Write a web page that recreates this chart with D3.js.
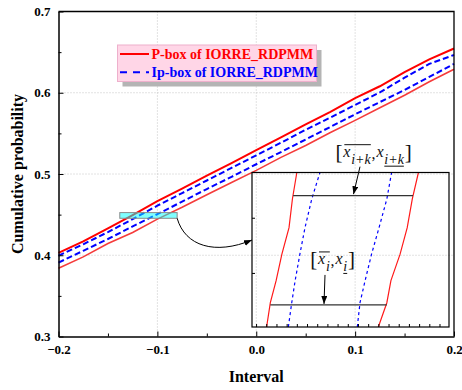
<!DOCTYPE html>
<html>
<head>
<meta charset="utf-8">
<script src="https://cdn.jsdelivr.net/npm/d3@7"></script>
<style>
  body { margin: 0; background: #fff; }
  svg { display: block; font-family: "Liberation Serif", "Times New Roman", serif; }
</style>
</head>
<body>
<svg id="chart" width="462" height="390"></svg>
<script>
// ---- data ----
const xValues    = [-0.2, -0.175, -0.15, -0.125, -0.1, -0.075, -0.05, -0.025, 0, 0.025, 0.05, 0.075, 0.1, 0.125, 0.15, 0.175, 0.2]
const pBoxUpper  = [0.403, 0.417, 0.433, 0.4495, 0.4665, 0.482, 0.498, 0.5135, 0.5295, 0.545, 0.561, 0.5765, 0.5935, 0.608, 0.6255, 0.641, 0.6545]
const ipBoxUpper = [0.3995, 0.4135, 0.4285, 0.4445, 0.461, 0.4765, 0.492, 0.5075, 0.523, 0.5385, 0.5545, 0.5695, 0.585, 0.6005, 0.6185, 0.6355, 0.6465]
const ipBoxLower = [0.391, 0.4055, 0.42, 0.4355, 0.4505, 0.466, 0.4815, 0.4965, 0.512, 0.527, 0.5425, 0.558, 0.5735, 0.5885, 0.6035, 0.6195, 0.6355]
const pBoxLower  = [0.384, 0.398, 0.4145, 0.428, 0.4445, 0.459, 0.4745, 0.4895, 0.5045, 0.5205, 0.535, 0.551, 0.566, 0.5815, 0.597, 0.6135, 0.629]

const xTicks = [-0.2, -0.1, 0, 0.1, 0.2]
const xMinor = [-0.15, -0.05, 0.05, 0.15]
const yTicks = [0.3, 0.4, 0.5, 0.6, 0.7]
const yMinor = [0.35, 0.45, 0.55, 0.65]
const legendLabels = ['P-box of IORRE_RDPMM', 'Ip-box of IORRE_RDPMM']

// zoomed window (highlighted rectangle) and the curves inside it
const zoomX = [-0.138, -0.080]
const zoomY = [0.4455, 0.4525]
const insetLevels     = [0.4455, 0.4466, 0.4476, 0.4488, 0.4500, 0.4513, 0.4525]
const insetPUpperX    = [-0.1337, -0.1326, -0.1309, -0.1292, -0.1271, -0.1261, -0.1248]
const insetIpUpperX   = [-0.1273, -0.1263, -0.1253, -0.1239, -0.1224, -0.1204, -0.1180]
const insetIpLowerX   = [-0.1070, -0.1062, -0.1047, -0.1028, -0.1006, -0.0983, -0.0969]
const insetPLowerX    = [-0.1008, -0.0983, -0.0971, -0.0944, -0.0923, -0.0908, -0.0890]
const insetXTicks = d3.range(-0.1368, -0.0805, 0.003)
const insetYTicks = [0.44795, 0.45045]
const intervalLevels = [0.4465, 0.45145]
const intervalLo     = [-0.1326, -0.1259]
const intervalHi     = [-0.0983, -0.0906]
const intervalSubs   = ['i', 'i+k']

// ---- layout ----
const width = 462, height = 390
const margin = { top: 11.5, right: 8, bottom: 53.5, left: 58.5 }
const inset = { x0: 252, x1: 449, y0: 172.5, y1: 327 }

const svg = d3.select('#chart')
const defs = svg.append('defs')
defs.append('marker')
    .attr('id', 'head')
    .attr('viewBox', '0 0 8 6')
    .attr('refX', 8).attr('refY', 3)
    .attr('markerWidth', 8).attr('markerHeight', 6)
    .attr('markerUnits', 'userSpaceOnUse')
    .attr('orient', 'auto')
    .append('path').attr('d', 'M0,0L8,3L0,6z').attr('fill', '#000')

const x = d3.scaleLinear().domain([-0.2, 0.2]).range([margin.left, width - margin.right])
const y = d3.scaleLinear().domain([0.3, 0.7]).range([height - margin.bottom, margin.top])

// grid
const grid = svg.append('g').attr('stroke', '#c4c4c4').attr('stroke-dasharray', '1,2')
grid.selectAll('.gx').data(xTicks.slice(1, -1)).join('line')
    .attr('x1', d => x(d)).attr('x2', d => x(d))
    .attr('y1', y(0.3)).attr('y2', y(0.7))
grid.selectAll('.gy').data(yTicks.slice(1, -1)).join('line')
    .attr('y1', d => y(d)).attr('y2', d => y(d))
    .attr('x1', x(-0.2)).attr('x2', x(0.2))

// curves
const series = [
    { vals: pBoxUpper,  color: '#ff0000', w: 2,   dash: null },
    { vals: ipBoxUpper, color: '#0000ff', w: 2,   dash: '6,3' },
    { vals: ipBoxLower, color: '#0000ff', w: 2,   dash: '6,3' },
    { vals: pBoxLower,  color: '#f53b3b', w: 1.6, dash: null }
]
const line = d3.line().x((d, i) => x(xValues[i])).y(d => y(d))
svg.append('g').selectAll('path').data(series).join('path')
    .attr('d', d => line(d.vals))
    .attr('fill', 'none')
    .attr('stroke', d => d.color)
    .attr('stroke-width', d => d.w)
    .attr('stroke-dasharray', d => d.dash)

// highlighted window
svg.append('rect')
    .attr('x', x(zoomX[0])).attr('y', y(zoomY[1]))
    .attr('width', x(zoomX[1]) - x(zoomX[0]))
    .attr('height', y(zoomY[0]) - y(zoomY[1]))
    .attr('fill', '#00ffff').attr('fill-opacity', 0.5)
    .attr('stroke', '#8a8a8a').attr('stroke-width', 1)

// axes
const axisFont = g => g.selectAll('text')
    .attr('font-family', '"Liberation Serif", "Times New Roman", serif')
    .attr('font-size', 13).attr('font-weight', 'bold').attr('fill', '#000')

svg.append('g')
    .attr('transform', `translate(0,${y(0.3)})`)
    .call(d3.axisBottom(x).tickValues(xTicks).tickSize(-5).tickSizeOuter(0).tickPadding(8)
        .tickFormat(d3.format('.1f')))
    .call(axisFont)
    .call(g => g.select('.domain').attr('stroke-width', 1.5))
svg.append('g')
    .attr('transform', `translate(0,${y(0.3)})`)
    .call(d3.axisBottom(x).tickValues(xMinor).tickSize(-3).tickSizeOuter(0).tickFormat(''))
    .call(g => g.select('.domain').remove())

svg.append('g')
    .attr('transform', `translate(${x(-0.2)},0)`)
    .call(d3.axisLeft(y).tickValues(yTicks).tickSize(-5).tickSizeOuter(0).tickPadding(8)
        .tickFormat(d3.format('.1f')))
    .call(axisFont)
    .call(g => g.select('.domain').attr('stroke-width', 1.5))
svg.append('g')
    .attr('transform', `translate(${x(-0.2)},0)`)
    .call(d3.axisLeft(y).tickValues(yMinor).tickSize(-3).tickSizeOuter(0).tickFormat(''))
    .call(g => g.select('.domain').remove())

// top & right frame
svg.append('path')
    .attr('d', `M${x(-0.2)},${y(0.7)}H${x(0.2)}V${y(0.3)}`)
    .attr('fill', 'none').attr('stroke', '#000').attr('stroke-width', 1.3)

// axis titles
svg.append('text')
    .attr('x', x(0)).attr('y', 381.5)
    .attr('text-anchor', 'middle')
    .attr('font-size', 16).attr('font-weight', 'bold')
    .text('Interval')
svg.append('text')
    .attr('transform', `translate(23,${(y(0.3) + y(0.7)) / 2})rotate(-90)`)
    .attr('text-anchor', 'middle')
    .attr('font-size', 16).attr('font-weight', 'bold')
    .text('Cumulative probability')

// legend
const lg = svg.append('g').attr('transform', 'translate(117.5,45)')
lg.append('rect').attr('x', 5).attr('y', 5).attr('width', 199).attr('height', 36.5).attr('fill', '#b4b4b4')
lg.append('rect').attr('width', 199).attr('height', 36.5)
    .attr('fill', '#ffd6e7').attr('stroke', '#eeb0cc').attr('stroke-width', 1)
const legendStyle = [series[0], series[1]]
legendLabels.forEach((lab, i) => {
    const yy = 9 + i * 18.3
    lg.append('line')
        .attr('x1', 2.5).attr('x2', 31.5).attr('y1', yy).attr('y2', yy)
        .attr('stroke', legendStyle[i].color).attr('stroke-width', 2)
        .attr('stroke-dasharray', i ? '7,6' : null)
    lg.append('text')
        .attr('x', 34).attr('y', yy + 4.8)
        .attr('font-size', 14).attr('font-weight', 'bold')
        .attr('fill', legendStyle[i].color)
        .text(lab)
})

// ---- inset ----
const ix = d3.scaleLinear().domain(zoomX).range([inset.x0, inset.x1])
const iy = d3.scaleLinear().domain(zoomY).range([inset.y1, inset.y0])

defs.append('clipPath').attr('id', 'insetClip')
    .append('rect')
    .attr('x', inset.x0).attr('y', inset.y0)
    .attr('width', inset.x1 - inset.x0).attr('height', inset.y1 - inset.y0)

const ig = svg.append('g')
const insetSeries = [
    { xs: insetPUpperX,  color: '#ff1a1a', w: 1.2, dash: null },
    { xs: insetIpUpperX, color: '#0000ff', w: 1.2, dash: '3,3' },
    { xs: insetIpLowerX, color: '#0000ff', w: 1.2, dash: '3,3' },
    { xs: insetPLowerX,  color: '#ff1a1a', w: 1.2, dash: null }
]
const iline = d3.line().x(d => ix(d[0])).y(d => iy(d[1]))
ig.append('g').attr('clip-path', 'url(#insetClip)')
    .selectAll('path').data(insetSeries).join('path')
    .attr('d', s => iline(s.xs.map((v, i) => [v, insetLevels[i]])))
    .attr('fill', 'none')
    .attr('stroke', s => s.color)
    .attr('stroke-width', s => s.w)
    .attr('stroke-dasharray', s => s.dash)

ig.append('g')
    .attr('transform', `translate(0,${inset.y1})`)
    .call(d3.axisBottom(ix).tickValues(insetXTicks).tickSize(-3).tickSizeOuter(0).tickFormat(''))
    .call(g => g.select('.domain').remove())
ig.append('g')
    .attr('transform', `translate(${inset.x0},0)`)
    .call(d3.axisLeft(iy).tickValues(insetYTicks).tickSize(-3).tickSizeOuter(0).tickFormat(''))
    .call(g => g.select('.domain').remove())
ig.append('rect')
    .attr('x', inset.x0).attr('y', inset.y0)
    .attr('width', inset.x1 - inset.x0).attr('height', inset.y1 - inset.y0)
    .attr('fill', 'none').attr('stroke', '#000').attr('stroke-width', 1.2)

// interval bars
ig.selectAll('.interval').data(intervalLevels).join('line')
    .attr('x1', (d, i) => ix(intervalLo[i])).attr('x2', (d, i) => ix(intervalHi[i]))
    .attr('y1', d => iy(d)).attr('y2', d => iy(d))
    .attr('stroke', '#333').attr('stroke-width', 1.3)

// interval labels  [x̄, x̲]
function mathLabel(parent, cx, base, sub) {
    const g = parent.append('g').attr('fill', '#111')
    const pieces = [
        { t: '[', size: 21, it: false, dy: 0 },
        { t: 'x', size: 16, it: true, dy: -2, over: true },
        { t: sub, size: 14, it: true, dy: 5, over: true },
        { t: ',', size: 16, it: false, dy: 0 },
        { t: 'x', size: 16, it: true, dy: -2 },
        { t: sub, size: 14, it: true, dy: 5, under: true },
        { t: ']', size: 21, it: false, dy: 0 }
    ]
    let cur = 0
    pieces.forEach(p => {
        const t = g.append('text')
            .attr('x', cur).attr('y', base + p.dy)
            .attr('font-size', p.size)
            .attr('font-style', p.it ? 'italic' : 'normal')
            .text(p.t)
        p.x0 = cur
        p.w = t.node().getComputedTextLength()
        cur += p.w + 0.8
    })
    const span = key => {
        const ps = pieces.filter(p => p[key])
        return [d3.min(ps, p => p.x0), d3.max(ps, p => p.x0 + p.w)]
    }
    const ov = span('over'), un = span('under')
    g.append('line').attr('x1', ov[0] + 1).attr('x2', ov[1]).attr('y1', base - 14).attr('y2', base - 14)
        .attr('stroke', '#111').attr('stroke-width', 1)
    g.append('line').attr('x1', un[0]).attr('x2', un[1]).attr('y1', base + 7.5).attr('y2', base + 7.5)
        .attr('stroke', '#111').attr('stroke-width', 1)
    g.attr('transform', `translate(${cx - cur / 2},0)`)
}
mathLabel(svg, 333, iy(intervalLevels[0]) - 39, intervalSubs[0])
mathLabel(svg, 374, iy(intervalLevels[1]) - 37, intervalSubs[1])

// arrows to the interval bars
const arrow = (x1, y1, x2, y2) => svg.append('line')
    .attr('x1', x1).attr('y1', y1).attr('x2', x2).attr('y2', y2)
    .attr('stroke', '#000').attr('stroke-width', 1).attr('marker-end', 'url(#head)')
arrow(325, iy(intervalLevels[0]) - 30, 324, iy(intervalLevels[0]) - 1)
arrow(360, iy(intervalLevels[1]) - 29, 353.5, iy(intervalLevels[1]) - 1.5)

// curved arrow from the window to the inset
const sx = x(zoomX[1]), sy = y(zoomY[0])
const ex = inset.x0, ey = 240
svg.append('path')
    .attr('d', `M${sx},${sy}C${sx + 8},${sy + 28} ${sx + 38},${sy + 37} ${ex},${ey}`)
    .attr('fill', 'none').attr('stroke', '#000').attr('stroke-width', 1)
    .attr('marker-end', 'url(#head)')
</script>
</body>
</html>
